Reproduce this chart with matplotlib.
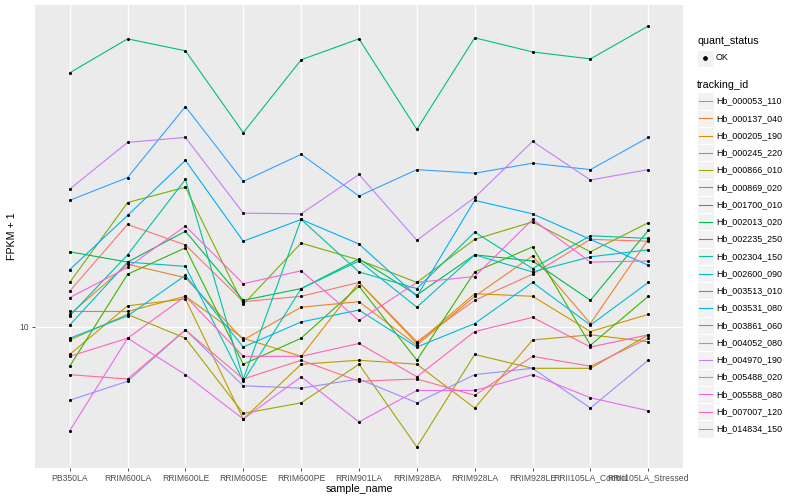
import matplotlib.pyplot as plt
import numpy as np
from matplotlib.patches import Rectangle
from matplotlib.ticker import NullLocator

samples = ["PB350LA", "RRIM600LA", "RRIM600LE", "RRIM600SE", "RRIM600PE", "RRIM901LA",
           "RRIM928BA", "RRIM928LA", "RRIM928LE", "RRII105LA_Control", "RRII105LA_Stressed"]

tracking_ids = ["Hb_000053_110", "Hb_000137_040", "Hb_000205_190", "Hb_000245_220",
                "Hb_000866_010", "Hb_000869_020", "Hb_001700_010", "Hb_002013_020",
                "Hb_002235_250", "Hb_002304_150", "Hb_002600_090", "Hb_003513_010",
                "Hb_003531_080", "Hb_003861_060", "Hb_004052_080", "Hb_004970_190",
                "Hb_005488_020", "Hb_005588_080", "Hb_007007_120", "Hb_014834_150"]

# FPKM + 1, one row per tracking_id, one column per sample
fpkm = [
    [12.5, 19.0, 16.7, 11.7, 12.1, 13.2, 9.1, 11.8, 13.9, 17.3, 17.1],
    [10.8, 14.8, 13.6, 9.2, 11.3, 11.7, 8.9, 12.1, 15.6, 10.2, 17.3],
    [11.0, 11.0, 12.1, 9.3, 8.3, 13.2, 9.0, 12.3, 12.1, 9.7, 10.8],
    [8.4, 11.4, 11.9, 5.6, 7.9, 8.1, 7.9, 6.0, 9.2, 9.5, 9.1],
    [9.2, 10.8, 9.3, 5.8, 6.2, 7.9, 4.7, 8.4, 7.7, 7.7, 9.5],
    [13.2, 21.8, 24.0, 11.5, 16.9, 15.2, 13.2, 17.3, 19.3, 16.0, 19.2],
    [7.8, 13.9, 16.4, 7.9, 9.3, 12.9, 8.1, 14.1, 16.5, 8.9, 12.1],
    [16.0, 15.0, 18.2, 11.8, 12.7, 15.3, 12.2, 15.7, 15.1, 11.8, 18.3],
    [49.2, 60.9, 56.5, 33.8, 53.4, 60.9, 34.5, 61.3, 56.1, 53.7, 66.0],
    [10.7, 15.7, 25.2, 7.2, 19.6, 14.1, 12.7, 18.1, 14.4, 17.7, 17.4],
    [10.1, 15.0, 14.6, 7.1, 12.7, 15.1, 11.3, 15.7, 14.1, 15.5, 16.2],
    [9.3, 10.7, 13.8, 8.8, 10.3, 11.1, 8.8, 10.2, 13.2, 10.1, 13.2],
    [14.3, 20.1, 28.4, 17.1, 19.6, 16.8, 12.1, 22.1, 20.3, 17.3, 14.7],
    [22.1, 25.5, 39.8, 24.9, 29.5, 22.7, 26.8, 26.2, 27.9, 26.8, 32.8],
    [6.3, 7.1, 9.8, 6.9, 6.8, 7.2, 6.2, 7.4, 7.7, 6.0, 8.1],
    [23.7, 31.8, 32.8, 20.4, 20.3, 26.0, 17.2, 22.5, 32.0, 25.1, 26.8],
    [5.2, 9.3, 7.4, 5.6, 7.3, 5.5, 6.7, 6.7, 7.4, 6.4, 5.9],
    [12.0, 14.5, 18.8, 13.1, 14.2, 10.4, 13.2, 13.7, 19.6, 15.0, 15.1],
    [8.3, 9.3, 12.1, 8.3, 8.3, 9.0, 7.3, 9.7, 10.6, 8.8, 9.5],
    [7.4, 7.2, 9.8, 7.2, 8.1, 7.1, 7.2, 6.5, 8.3, 7.8, 9.3],
]

colors = ["#F8766D", "#EA8331", "#D89000", "#C09B00", "#A3A500", "#7CAE00", "#39B600",
          "#00BB4E", "#00BF7D", "#00C1A3", "#00BFC4", "#00BAE0", "#00B0F6", "#35A2FF",
          "#9590FF", "#C77CFF", "#E76BF3", "#FA62DB", "#FF62BC", "#FF6C91"]

plt.rcParams['font.family'] = ['Liberation Sans', 'DejaVu Sans']

fig = plt.figure(figsize=(8, 5), dpi=100)
ax = fig.add_axes([35/800, 32/500, 648/800, 463/500])
ax.set_facecolor('#EBEBEB')

x = np.arange(len(samples))
for row, col in zip(fpkm, colors):
    ax.plot(x, row, color=col, lw=0.8, zorder=2)
for row in fpkm:
    ax.scatter(x, row, s=5, color='black', linewidths=0, zorder=3)

ax.set_yscale('log')
vals = np.array(fpkm)
lo, hi = np.log10(vals.min()), np.log10(vals.max())
pad = 0.05 * (hi - lo)
ax.set_ylim(10**(lo - pad), 10**(hi + pad))
ax.set_xlim(-0.6, len(samples) - 0.4)
ax.set_yticks([10])
ax.set_yticklabels(['10'])
ax.yaxis.set_minor_locator(NullLocator())
ax.set_xticks(x)
ax.set_xticklabels(samples)
ax.grid(color='white', lw=1.0)
ax.set_axisbelow(True)
for s in ax.spines.values():
    s.set_visible(False)
ax.tick_params(length=2.5, width=0.6, color='#333333', labelsize=6.2,
               labelcolor='#4D4D4D', pad=1.5)

fig.text(359/800, 1 - 489/500, 'sample_name', fontsize=7.7, ha='center', va='center')
fig.text(12/800, 1 - 236/500, 'FPKM + 1', fontsize=7.7, ha='center', va='center',
         rotation=90)

# legend drawn in pixel coordinates
lg = fig.add_axes([0, 0, 1, 1])
lg.set_xlim(0, 800)
lg.set_ylim(500, 0)
lg.axis('off')

lg.text(697, 41, 'quant_status', fontsize=7.7, va='center')
lg.add_patch(Rectangle((697, 49.5), 16.5, 17, fc='#F2F2F2', ec='white', lw=0.8))
lg.plot([705.2], [58], 'o', color='black', ms=2.4)
lg.text(716, 58, 'OK', fontsize=6.4, va='center')

lg.text(697, 85, 'tracking_id', fontsize=7.7, va='center')
step = 17.26
for i, (tid, col) in enumerate(zip(tracking_ids, colors)):
    cy = 101 + i * step
    lg.add_patch(Rectangle((697, cy - step/2), 16.5, step, fc='#F2F2F2', ec='white', lw=0.8))
    lg.plot([698.5, 711.5], [cy, cy], color=col, lw=0.8)
    lg.text(716, cy, tid, fontsize=6.4, va='center')

fig.savefig('out.png', dpi=100)
